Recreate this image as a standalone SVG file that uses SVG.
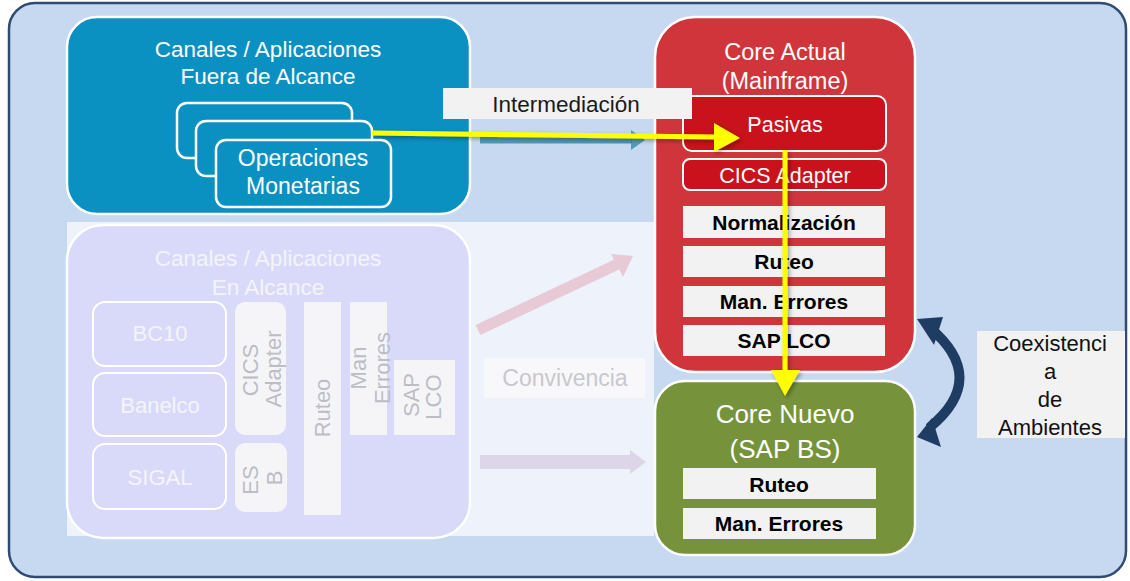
<svg xmlns="http://www.w3.org/2000/svg" width="1130" height="581" viewBox="0 0 1130 581">
<defs>
<style>
.t{font-family:"Liberation Sans",Arial,sans-serif;text-anchor:middle}
.w{fill:#ffffff}
.b{fill:#000000;font-weight:bold;font-size:21px}
.lab{fill:#f2f2f2}
.ft{fill:#f4f4f8;font-size:22px}
.vt{fill:#bdbdc6;font-size:22px}
</style>
<filter id="sh" x="-20%" y="-20%" width="140%" height="140%">
<feDropShadow dx="2" dy="2" stdDeviation="2" flood-color="#000" flood-opacity="0.35"/>
</filter>
</defs>
<rect x="9" y="3" width="1117" height="574" rx="26" fill="#c6d9f0" stroke="#2f4b72" stroke-width="2.5"/>

<g id="fuera">
<rect x="67" y="17" width="403" height="197" rx="30" fill="#0b90c2" stroke="#ffffff" stroke-width="2.5"/>
<text class="t w" x="268" y="57" font-size="22.5">Canales / Aplicaciones</text>
<text class="t w" x="268" y="84" font-size="22.5">Fuera de Alcance</text>
<rect x="177" y="103" width="175" height="55" rx="10" fill="#0b90c2" stroke="#ffffff" stroke-width="2.5"/>
<rect x="196" y="121" width="176" height="55" rx="10" fill="#0b90c2" stroke="#ffffff" stroke-width="2.5"/>
<rect x="216" y="140" width="175" height="67" rx="10" fill="#0b90c2" stroke="#ffffff" stroke-width="2.5"/>
<text class="t w" x="303" y="166" font-size="23">Operaciones</text>
<text class="t w" x="303" y="194" font-size="23">Monetarias</text>
</g>

<g id="enalcance">
<rect x="67" y="222" width="587" height="314" fill="#eef2fb"/>
<rect x="67" y="225" width="403" height="313" rx="36" fill="#d9dafa" stroke="#ffffff" stroke-width="2.5"/>
<text class="t" x="268" y="266" font-size="22.5" fill="#f4f4f8">Canales / Aplicaciones</text>
<text class="t" x="268" y="295" font-size="22.5" fill="#f4f4f8">En Alcance</text>
<rect x="93" y="302" width="133" height="64" rx="12" fill="#d9dafa" stroke="#ffffff" stroke-width="2"/>
<text class="t ft" x="160" y="341">BC10</text>
<rect x="93" y="373" width="133" height="63" rx="12" fill="#d9dafa" stroke="#ffffff" stroke-width="2"/>
<text class="t ft" x="160" y="413">Banelco</text>
<rect x="93" y="444" width="133" height="65" rx="12" fill="#d9dafa" stroke="#ffffff" stroke-width="2"/>
<text class="t ft" x="160" y="485">SIGAL</text>
<rect x="235" y="302" width="51" height="133" rx="10" fill="#f5f5f8"/>
<text class="t vt" transform="translate(258,370) rotate(-90)">CICS</text>
<text class="t vt" transform="translate(281,369) rotate(-90)">Adapter</text>
<rect x="235" y="443" width="52" height="69" rx="10" fill="#f5f5f8"/>
<text class="t vt" transform="translate(258,480) rotate(-90)">ES</text>
<text class="t vt" transform="translate(282,478) rotate(-90)">B</text>
<rect x="304" y="302" width="37" height="213" fill="#f5f5f8"/>
<text class="t vt" transform="translate(330,408) rotate(-90)">Ruteo</text>
<rect x="350" y="302" width="37" height="133" fill="#f5f5f8"/>
<text class="t vt" transform="translate(366,368) rotate(-90)">Man</text>
<text class="t vt" transform="translate(390,368) rotate(-90)">Errores</text>
<rect x="394" y="360" width="61" height="75" fill="#f5f5f8"/>
<text class="t vt" transform="translate(419,395) rotate(-90)">SAP</text>
<text class="t vt" transform="translate(441,397) rotate(-90)">LCO</text>
</g>

<g id="coreactual">
<rect x="655" y="17" width="260" height="355" rx="40" fill="#d0353c" stroke="#ffffff" stroke-width="2.5"/>
<text class="t w" x="785" y="60" font-size="23.5">Core Actual</text>
<text class="t w" x="785" y="89" font-size="23.5">(Mainframe)</text>
<rect x="683" y="96" width="203" height="55" rx="9" fill="#c9121b" stroke="#ffffff" stroke-width="2"/>
<text class="t w" x="785" y="132" font-size="21.5">Pasivas</text>
<rect x="683" y="159" width="203" height="31" rx="7" fill="#c9121b" stroke="#ffffff" stroke-width="2"/>
<text class="t w" x="785" y="183" font-size="21.5">CICS Adapter</text>
<rect x="683" y="206" width="202" height="32" class="lab"/>
<text class="t b" x="784" y="230">Normalización</text>
<rect x="683" y="246" width="202" height="31" class="lab"/>
<text class="t b" x="784" y="269">Ruteo</text>
<rect x="683" y="286" width="202" height="31" class="lab"/>
<text class="t b" x="784" y="309">Man. Errores</text>
<rect x="683" y="325" width="202" height="31" class="lab"/>
<text class="t b" x="784" y="348">SAP LCO</text>
</g>

<g id="corenuevo">
<rect x="655" y="381" width="260" height="174" rx="30" fill="#76933c" stroke="#ffffff" stroke-width="2.5"/>
<text class="t w" x="785" y="423" font-size="26">Core Nuevo</text>
<text class="t w" x="785" y="458" font-size="26">(SAP BS)</text>
<rect x="683" y="468" width="193" height="31" class="lab"/>
<text class="t b" x="779" y="492">Ruteo</text>
<rect x="683" y="508" width="193" height="31" class="lab"/>
<text class="t b" x="779" y="531">Man. Errores</text>
</g>

<g id="intermediacion">
<rect x="443" y="88" width="249" height="31" fill="#f2f2f2"/>
<text class="t" x="566" y="112" font-size="22.5" fill="#1a1a1a">Intermediación</text>
</g>

<g id="convivencia">
<rect x="484" y="358" width="161" height="40" fill="#f8f8fb"/>
<text class="t" x="565" y="386" font-size="23" fill="#c8c8cc">Convivencia</text>
</g>

<g id="coexistencia">
<rect x="977" y="331" width="148" height="107" fill="#f2f2f2"/>
<text class="t" x="1050" y="351" font-size="22" fill="#111">Coexistenci</text>
<text class="t" x="1050" y="379" font-size="22" fill="#111">a</text>
<text class="t" x="1050" y="407" font-size="22" fill="#111">de</text>
<text class="t" x="1050" y="435" font-size="22" fill="#111">Ambientes</text>
</g>

<g id="connectors">
<line x1="478" y1="330" x2="622" y2="262" stroke="#e8c9d6" stroke-width="11"/>
<polygon points="633,256 611,254 623,277" fill="#e8c9d6"/>
<line x1="480" y1="462" x2="630" y2="462" stroke="#dcd6e8" stroke-width="14"/>
<polygon points="646,462 630,450 630,474" fill="#dcd6e8"/>
<line x1="480" y1="140" x2="632" y2="140" stroke="#3d8fab" stroke-width="7" opacity="0.85"/>
<polygon points="645,140 631,130 631,150" fill="#3d8fab" opacity="0.85"/>
<g filter="url(#sh)">
<line x1="372" y1="133" x2="716" y2="137" stroke="#ffff00" stroke-width="5"/>
<polygon points="740,138 714,123 714,152" fill="#ffff00"/>
<line x1="785" y1="150" x2="785" y2="372" stroke="#ffff00" stroke-width="5"/>
<polygon points="785,396 771,370 800,370" fill="#ffff00"/>
</g>
<path d="M929,327 Q990,378 929,428" fill="none" stroke="#1f3c63" stroke-width="10"/>
<polygon points="917,319 943,317 934,345" fill="#1f3c63"/>
<polygon points="917,437 941,447 932,418" fill="#1f3c63"/>
</g>
</svg>
